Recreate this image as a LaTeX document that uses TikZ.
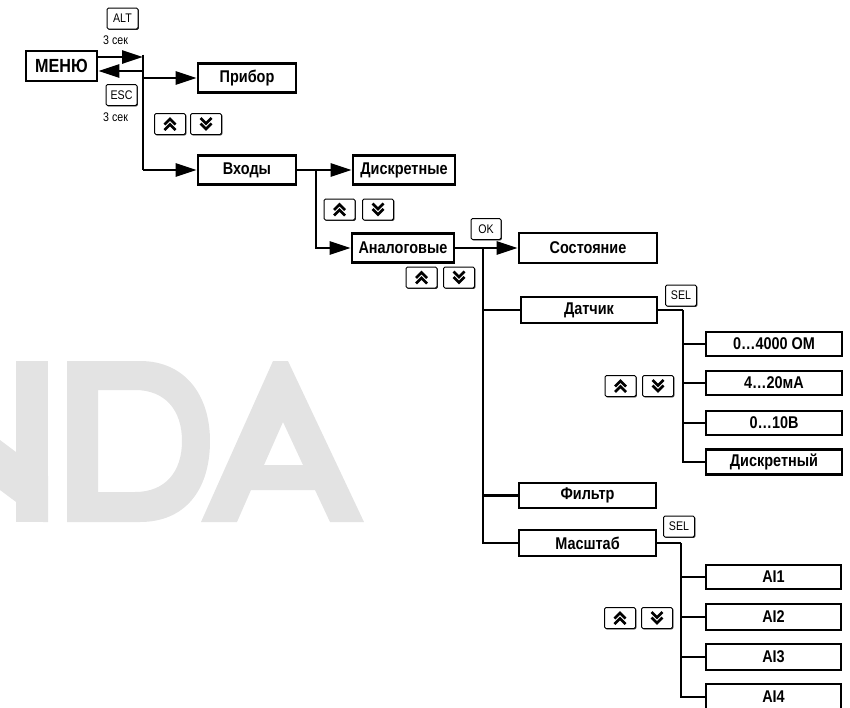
\documentclass[tikz,border=0pt]{standalone}
\usepackage{fontspec}
\setmainfont{Liberation Sans}[FakeStretch=0.85]
\usetikzlibrary{arrows.meta,shadows}
\definecolor{wm}{RGB}{227,227,227}
\newcommand\keypair[3]{%
  \node[keyb] (#1u) at (#2) {};
  \node[keyb] (#1d) at (#3) {};
  \draw[chev] ([shift={(-5.5,0.5)}]#1u.center) -- ([shift={(0,-5)}]#1u.center) -- ([shift={(5.5,0.5)}]#1u.center);
  \draw[chev] ([shift={(-5.5,6)}]#1u.center) -- ([shift={(0,0.5)}]#1u.center) -- ([shift={(5.5,6)}]#1u.center);
  \draw[chev] ([shift={(-5.5,-0.5)}]#1d.center) -- ([shift={(0,5)}]#1d.center) -- ([shift={(5.5,-0.5)}]#1d.center);
  \draw[chev] ([shift={(-5.5,-6)}]#1d.center) -- ([shift={(0,-0.5)}]#1d.center) -- ([shift={(5.5,-6)}]#1d.center);
}
\begin{document}
\begin{tikzpicture}[x=1pt,y=-1pt,
  box/.style={draw, line width=2.8pt, fill=white, inner sep=0pt,
    font=\bfseries\fontsize{17}{19}\selectfont},
  conn/.style={line width=2.8pt},
  arr/.style={conn, -{Triangle[length=21pt,width=13pt]}},
  keyb/.style={draw, line width=1pt, rounded corners=1.5pt, fill=white,
    minimum width=31pt, minimum height=21pt, inner sep=0pt,
    font=\fontsize{12.5}{13}\selectfont,
    drop shadow={shadow xshift=0.9pt, shadow yshift=-0.9pt, fill=black, opacity=0.8}},
  chev/.style={line width=2.6pt, line join=miter},
  note/.style={font=\fontsize{12.5}{13}\selectfont, inner sep=0pt, anchor=west}
]
\useasboundingbox (0,0) rectangle (850,707);
\clip (0,0) rectangle (850,707);
% watermark
\fill[wm] (16,361) rectangle (48,522);
\fill[wm] (0,440) -- (48,476) -- (48,522) -- (43,522) -- (0,490) -- cycle;
\fill[wm, even odd rule] (67,361) -- (140,361) .. controls (185,361) and (210,395) .. (210,441)
   .. controls (210,490) and (185,522) .. (140,522) -- (67,522) -- cycle
   (98,390) -- (135,390) .. controls (165,390) and (182,410) .. (182,441)
   .. controls (182,472) and (165,492) .. (135,492) -- (98,492) -- cycle;
\fill[wm, even odd rule] (201,522) -- (273,361) -- (288,361) -- (364,522) -- (330,522) -- (315,490)
   -- (251,490) -- (237,522) -- cycle
   (283,422) -- (303,465) -- (264,465) -- cycle;

% boxes
\node[box, font=\bfseries\fontsize{19}{21}\selectfont, minimum width=71pt, minimum height=30pt] (menu) at (61.5,66) {МЕНЮ};
\node[box, minimum width=98pt, minimum height=29pt] (pribor) at (247,78) {Прибор};
\node[box, minimum width=98pt, minimum height=29pt] (vhody) at (247,170) {Входы};
\node[box, minimum width=102pt, minimum height=29pt] (diskr) at (404,170) {Дискретные};
\node[box, minimum width=102pt, minimum height=29pt] (analog) at (403,248) {Аналоговые};
\node[box, minimum width=138pt, minimum height=30pt] (sost) at (588,248) {Состояние};
\node[box, minimum width=136pt, minimum height=26pt] (datchik) at (589,310) {Датчик};
\node[box, minimum width=137pt, minimum height=25pt] (filtr) at (587.5,495.5) {Фильтр};
\node[box, minimum width=137pt, minimum height=26pt] (mash) at (587.5,543) {Масштаб};
\node[box, minimum width=136pt, minimum height=24pt] (o1) at (774,344) {0…4000 ОМ};
\node[box, minimum width=136pt, minimum height=24pt] (o2) at (774,383) {4…20мА};
\node[box, minimum width=136pt, minimum height=24pt] (o3) at (774,423) {0…10В};
\node[box, minimum width=136pt, minimum height=25pt] (o4) at (774,462) {Дискретный};
\node[box, minimum width=135pt, minimum height=24pt] (a1) at (773.5,577) {AI1};
\node[box, minimum width=135pt, minimum height=26pt] (a2) at (773.5,617) {AI2};
\node[box, minimum width=135pt, minimum height=26pt] (a3) at (773.5,657) {AI3};
\node[box, minimum width=135pt, minimum height=26pt] (a4) at (773.5,697) {AI4};

% keys
\node[keyb] (alt) at (122.5,18.5) {ALT};
\node[note] (t1) at (103,40) {3 сек};
\node[keyb] (esc) at (121.5,95) {ESC};
\node[note] (t2) at (103,117) {3 сек};
\node[keyb, minimum width=30pt] (ok) at (486,229) {OK};
\node[keyb] (sel1) at (681,295.5) {SEL};
\node[keyb] (sel2) at (679,526.5) {SEL};
\keypair{k1}{170,124}{206,124}
\keypair{k2}{339.5,209.5}{378,209.5}
\keypair{k3}{421.5,277.5}{459,277.5}
\keypair{k4}{620.5,386}{658,386}
\keypair{k5}{620,618}{657,618}

% connectors
\coordinate (jT) at (143,54.5);
\coordinate (jA) at (143,57);
\coordinate (jB) at (143,71);
\coordinate (jV) at (143,170);
\draw[arr] (menu.east |- jA) -- (jA);
\draw[arr] (jB) -- (menu.east |- jB);
\draw[conn] (jT) -- (jV);
\draw[arr] (jV) -- (vhody.west);
\draw[arr] (jA |- pribor.west) -- (pribor.west);

\coordinate (j1) at (316,170);
\draw[conn] (vhody.east) -- (j1);
\draw[arr] (j1) -- (diskr.west);
\draw[arr] (j1) |- (analog.west);

\coordinate (j2) at (483,248);
\draw[conn] (analog.east) -- (j2);
\draw[arr] (j2) -- (sost.west);
\draw[conn] (j2) |- (mash.west);
\draw[conn] (j2 |- datchik.west) -- (datchik.west);
\draw[conn] (j2 |- filtr.west) -- (filtr.west);

\coordinate (j3) at (683,310);
\draw[conn] (datchik.east) -- (j3);
\draw[conn] (j3) |- (o4.west);
\draw[conn] (j3 |- o1.west) -- (o1.west);
\draw[conn] (j3 |- o2.west) -- (o2.west);
\draw[conn] (j3 |- o3.west) -- (o3.west);

\coordinate (j4) at (681,543);
\draw[conn] (mash.east) -- (j4);
\draw[conn] (j4) |- (a4.west);
\draw[conn] (j4 |- a1.west) -- (a1.west);
\draw[conn] (j4 |- a2.west) -- (a2.west);
\draw[conn] (j4 |- a3.west) -- (a3.west);
\end{tikzpicture}
\end{document}
